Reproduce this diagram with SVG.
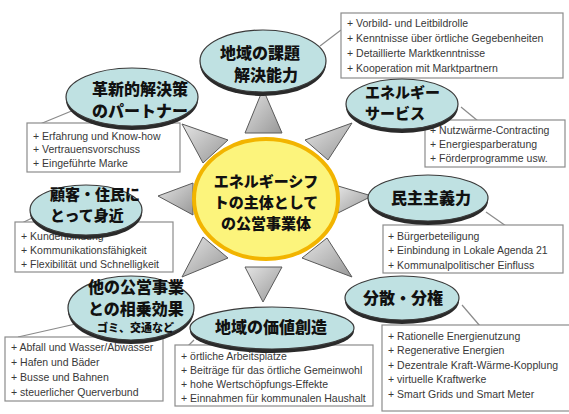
<svg xmlns="http://www.w3.org/2000/svg" width="569" height="414" viewBox="0 0 569 414">
<defs>
<linearGradient id="spk" x1="0" y1="0" x2="1" y2="1">
<stop offset="0" stop-color="#e4e4e4"/>
<stop offset="1" stop-color="#989898"/>
</linearGradient>
<style>
.spike{fill:url(#spk);stroke:#5a5a5a;stroke-width:1}
.line{stroke:#8a8a8a;stroke-width:1.2;fill:none}
.box{fill:#fff;stroke:#8c8c8c;stroke-width:1.2}
.bt{font-family:"Liberation Sans",Arial,sans-serif;font-size:10.5px;fill:#383838}
.shd{fill:#2a2a2a}
.ell{fill:#bfe1e2;stroke:#3a3a3a;stroke-width:1.2}
.jt{font-family:"Noto Sans CJK JP","Noto Sans",sans-serif;font-weight:900;fill:#111}
.center{fill:#fcf47c;stroke:#f2b400;stroke-width:4}
</style>
</defs>
<rect width="569" height="414" fill="#fff"/>
<g id="connectors">
<polygon class="spike" points="263,89 245,133 282,133"/>
<polygon class="spike" points="182,124 203,163 228,140"/>
<polygon class="spike" points="352,123 305,140 328,160"/>
<polygon class="spike" points="158,196 193,183 193,215"/>
<polygon class="spike" points="372,196 338,186 338,213"/>
<polygon class="spike" points="182,277 203,237 228,258"/>
<polygon class="spike" points="263,302 245,267 282,267"/>
<polygon class="spike" points="352,277 302,258 327,238"/>
<line class="line" x1="320" y1="46" x2="341" y2="30"/>
<line class="line" x1="461" y1="107" x2="478" y2="121"/>
<line class="line" x1="40" y1="124" x2="74" y2="110"/>
<line class="line" x1="486" y1="212" x2="506" y2="226"/>
<line class="line" x1="22" y1="223" x2="36" y2="216"/>
<line class="line" x1="462" y1="305" x2="480" y2="326"/>
<line class="line" x1="18" y1="337" x2="80" y2="323"/>
<line class="line" x1="194" y1="340" x2="188" y2="346"/>
</g>
<g id="box-top">
<rect class="box" x="341" y="13" width="222" height="65"/>
<text class="bt" x="347" y="27">+ Vorbild- und Leitbildrolle</text>
<text class="bt" x="347" y="42">+ Kenntnisse über örtliche Gegebenheiten</text>
<text class="bt" x="347" y="57">+ Detaillierte Marktkenntnisse</text>
<text class="bt" x="347" y="72">+ Kooperation mit Marktpartnern</text>
</g>
<g id="box-energy">
<rect class="box" x="425" y="120" width="140" height="47"/>
<text class="bt" x="430" y="134">+ Nutzwärme-Contracting</text>
<text class="bt" x="430" y="148">+ Energiesparberatung</text>
<text class="bt" x="430" y="162">+ Förderprogramme usw.</text>
</g>
<g id="box-partner">
<rect class="box" x="27" y="123" width="153" height="49"/>
<text class="bt" x="33" y="140">+ Erfahrung und Know-how</text>
<text class="bt" x="33" y="153">+ Vertrauensvorschuss</text>
<text class="bt" x="33" y="167">+ Eingeführte Marke</text>
</g>
<g id="box-demo">
<rect class="box" x="383" y="225" width="180" height="48"/>
<text class="bt" x="388" y="240">+ Bürgerbeteiligung</text>
<text class="bt" x="388" y="254">+ Einbindung in Lokale Agenda 21</text>
<text class="bt" x="388" y="269">+ Kommunalpolitischer Einfluss</text>
</g>
<g id="box-customer">
<rect class="box" x="15" y="222" width="158" height="50"/>
<text class="bt" x="21" y="240">+ Kundenbindung</text>
<text class="bt" x="21" y="254">+ Kommunikationsfähigkeit</text>
<text class="bt" x="21" y="268">+ Flexibilität und Schnelligkeit</text>
</g>
<g id="box-decentral">
<rect class="box" x="382" y="325" width="195" height="86"/>
<text class="bt" x="388" y="340">+ Rationelle Energienutzung</text>
<text class="bt" x="388" y="354">+ Regenerative Energien</text>
<text class="bt" x="388" y="369">+ Dezentrale Kraft-Wärme-Kopplung</text>
<text class="bt" x="388" y="383">+ virtuelle Kraftwerke</text>
<text class="bt" x="388" y="398">+ Smart Grids und Smart Meter</text>
</g>
<g id="box-synergy">
<rect class="box" x="5" y="337" width="158" height="64"/>
<text class="bt" x="11" y="351">+ Abfall und Wasser/Abwasser</text>
<text class="bt" x="11" y="366">+ Hafen und Bäder</text>
<text class="bt" x="11" y="381">+ Busse und Bahnen</text>
<text class="bt" x="11" y="396">+ steuerlicher Querverbund</text>
</g>
<g id="box-value">
<rect class="box" x="175" y="345" width="198" height="61"/>
<text class="bt" x="181" y="360">+ örtliche Arbeitsplätze</text>
<text class="bt" x="181" y="374">+ Beiträge für das örtliche Gemeinwohl</text>
<text class="bt" x="181" y="388">+ hohe Wertschöpfungs-Effekte</text>
<text class="bt" x="181" y="402">+ Einnahmen für kommunalen Haushalt</text>
</g>
<g id="node-region">
<ellipse class="shd" cx="263" cy="64" rx="63" ry="32"/>
<ellipse class="ell" cx="263" cy="61" rx="63" ry="31"/>
<text class="jt" font-size="16" x="260" y="59" text-anchor="middle">地域の課題</text>
<text class="jt" font-size="16" x="266" y="81" text-anchor="middle">解決能力</text>
</g>
<g id="node-partner">
<ellipse class="shd" cx="132" cy="100" rx="66" ry="30"/>
<ellipse class="ell" cx="132" cy="97" rx="66" ry="29"/>
<text class="jt" font-size="16" x="92" y="95">革新的解決策</text>
<text class="jt" font-size="16" x="92" y="117">のパートナー</text>
</g>
<g id="node-energy">
<ellipse class="shd" cx="402" cy="107" rx="56" ry="26"/>
<ellipse class="ell" cx="402" cy="104" rx="56" ry="25"/>
<text class="jt" font-size="15" x="365" y="98">エネルギー</text>
<text class="jt" font-size="15" x="365" y="119">サービス</text>
</g>
<g id="node-customer">
<ellipse class="shd" cx="86" cy="213" rx="56" ry="26"/>
<ellipse class="ell" cx="86" cy="210" rx="56" ry="25"/>
<text class="jt" font-size="15" x="50" y="200">顧客・住民に</text>
<text class="jt" font-size="15" x="50" y="221">とって身近</text>
</g>
<g id="node-democracy">
<ellipse class="shd" cx="428" cy="201" rx="60" ry="24"/>
<ellipse class="ell" cx="428" cy="198" rx="60" ry="23"/>
<text class="jt" font-size="16" x="391" y="204">民主主義力</text>
</g>
<g id="node-synergy">
<ellipse class="shd" cx="131" cy="311" rx="63" ry="33"/>
<ellipse class="ell" cx="131" cy="308" rx="63" ry="32"/>
<text class="jt" font-size="16" x="88" y="293">他の公営事業</text>
<text class="jt" font-size="16" x="88" y="315">との相乗効果</text>
<text class="jt" font-size="11" x="97" y="332">ゴミ、交通など</text>
</g>
<g id="node-value">
<ellipse class="shd" cx="272" cy="331" rx="82" ry="22"/>
<ellipse class="ell" cx="272" cy="328" rx="82" ry="21"/>
<text class="jt" font-size="16" x="271" y="333" text-anchor="middle">地域の価値創造</text>
</g>
<g id="node-decentral">
<ellipse class="shd" cx="402" cy="301" rx="57" ry="23"/>
<ellipse class="ell" cx="402" cy="298" rx="57" ry="22"/>
<text class="jt" font-size="16" x="363" y="304">分散・分権</text>
</g>
<g id="node-center">
<ellipse class="center" cx="266" cy="199" rx="72" ry="60"/>
<text class="jt" font-size="15" x="266" y="187" text-anchor="middle">エネルギーシフ</text>
<text class="jt" font-size="15" x="266" y="208" text-anchor="middle">トの主体として</text>
<text class="jt" font-size="15" x="266" y="229" text-anchor="middle">の公営事業体</text>
</g>
</svg>
